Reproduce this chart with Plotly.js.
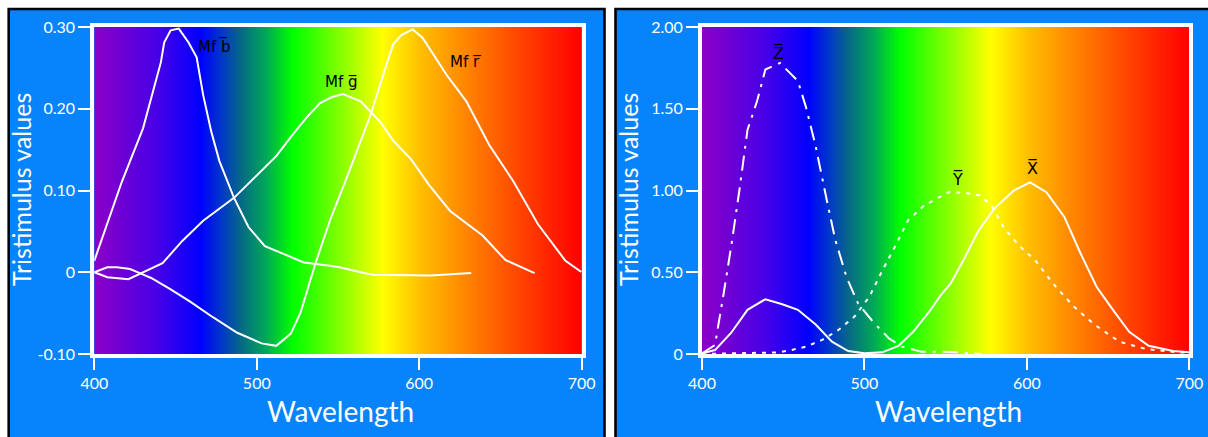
<!DOCTYPE html>
<html>
<head>
<meta charset="utf-8">
<script src="https://cdn.plot.ly/plotly-3.0.1.min.js"></script>
<style>html,body{margin:0;padding:0;background:#fff;}#chart{width:1208px;height:437px;}</style>
</head>
<body>
<div id="chart"></div>
<script>
// ---------- data ----------
// Left panel: CIE RGB colour matching functions (Mf r, g, b)
const bNm  = [400, 407, 417, 430, 435, 441, 443, 447, 452, 458, 463, 467, 472, 477, 486, 495, 505, 529, 545, 551, 566, 572, 607, 632];
const bVal = [0.014, 0.055, 0.111, 0.176, 0.213, 0.257, 0.281, 0.296, 0.298, 0.281, 0.263, 0.217, 0.172, 0.136, 0.091, 0.055, 0.032, 0.012, 0.008, 0.006, -0.001, -0.003, -0.004, -0.001];
const gNm  = [400, 408, 421, 426, 435, 442, 454, 467, 486, 500, 512, 522, 531, 539, 546, 553, 564, 576, 584, 595, 606, 619, 628, 639, 653, 671];
const gVal = [0, -0.006, -0.0085, -0.004, 0.004, 0.011, 0.038, 0.063, 0.091, 0.119, 0.142, 0.168, 0.190, 0.207, 0.214, 0.218, 0.209, 0.184, 0.161, 0.138, 0.107, 0.075, 0.061, 0.045, 0.015, -0.001];
const rNm  = [400, 408, 414, 422, 428, 435, 447, 459, 473, 488, 503, 512, 521, 527, 536, 545, 557, 570, 579, 584, 589, 596, 602, 617, 629, 643, 658, 673, 690, 700];
const rVal = [0, 0.006, 0.006, 0.004, -0.001, -0.007, -0.021, -0.036, -0.055, -0.074, -0.087, -0.090, -0.075, -0.049, 0.010, 0.063, 0.124, 0.192, 0.249, 0.279, 0.290, 0.297, 0.287, 0.241, 0.209, 0.156, 0.111, 0.059, 0.014, 0];

// Right panel: CIE XYZ colour matching functions
const zNm  = [400, 408, 413, 418, 423, 428, 434, 439, 448, 459, 464, 470, 476, 482, 489, 496, 505, 515, 523, 535, 547, 559, 572];
const zVal = [0.004, 0.055, 0.35, 0.66, 1.00, 1.37, 1.55, 1.74, 1.78, 1.67, 1.51, 1.27, 0.98, 0.70, 0.47, 0.31, 0.20, 0.096, 0.045, 0.014, 0.014, 0.01, 0];
const xNm  = [400, 408, 418, 428, 439, 449, 459, 470, 480, 490, 500, 511, 521, 530, 540, 547, 553, 561, 570, 580, 592, 602, 612, 623, 633, 643, 653, 663, 675, 690, 700];
const xVal = [0.004, 0.024, 0.13, 0.27, 0.335, 0.306, 0.27, 0.18, 0.075, 0.018, 0.004, 0.01, 0.05, 0.136, 0.26, 0.36, 0.43, 0.575, 0.75, 0.89, 1.00, 1.05, 0.99, 0.84, 0.616, 0.41, 0.27, 0.136, 0.05, 0.018, 0.01];
const yNm  = [400, 447, 455, 464, 474, 484, 494, 503, 511, 519, 527, 537, 548, 552, 561, 571, 578, 586, 592, 598, 605, 616, 629, 642, 657, 674, 693, 700];
const yVal = [0.0, 0.01, 0.024, 0.045, 0.086, 0.147, 0.23, 0.35, 0.51, 0.66, 0.82, 0.91, 0.97, 0.99, 0.987, 0.97, 0.91, 0.77, 0.70, 0.636, 0.575, 0.432, 0.289, 0.177, 0.075, 0.029, 0.01, 0.008];

// Spectrum background stops
const specNm    = [400, 440, 465, 478, 490, 505, 522, 550, 577, 600, 625, 660, 700];
const specColor = ['#8c00c8', '#4400e8', '#0000ff', '#0038c8', '#066888', '#00a858', '#00ff00', '#80ff00', '#ffff00', '#ffc000', '#ff8c00', '#ff4800', '#ff0000'];

// Tick labels
const xTicks = [400, 500, 600, 700];
const xTickText = ['400', '500', '600', '700'];
const yTicksL = [-0.1, 0, 0.1, 0.2, 0.3];
const yTickTextL = ['-0.10', '0', '0.10', '0.20', '0.30'];
const yTicksR = [0, 0.5, 1, 1.5, 2];
const yTickTextR = ['0', '0.50', '1.00', '1.50', '2.00'];

// ---------- layout helpers ----------
const W = 1208, H = 437;
const fx = p => p / W;
const fy = p => 1 - p / H;
const FONT = 'Lato, "Open Sans", sans-serif';
const LFONT = '"DejaVu Sans", sans-serif';
const BLUE = '#0784fb';

const colorscale = specNm.map((n, i) => [(n - 400) / 300, specColor[i]]);

function spectrum(xa, ya, y0, y1) {
  return {
    type: 'heatmap', xaxis: xa, yaxis: ya,
    x: specNm, y: [y0, y1], z: [specNm, specNm],
    zmin: 400, zmax: 700, colorscale: colorscale, zsmooth: 'best',
    showscale: false, hoverinfo: 'skip'
  };
}
function line(xa, ya, x, y, dash) {
  return {type: 'scatter', mode: 'lines', xaxis: xa, yaxis: ya, x: x, y: y,
    line: {color: '#ffffff', width: 2, dash: dash || 'solid'}, hoverinfo: 'skip', showlegend: false};
}

const data = [
  spectrum('x', 'y', -0.2, 0.4),
  line('x', 'y', bNm, bVal),
  line('x', 'y', gNm, gVal),
  line('x', 'y', rNm, rVal),
  spectrum('x2', 'y2', -0.5, 2.5),
  line('x2', 'y2', zNm, zVal, '15px,7px,3px,7px'),
  line('x2', 'y2', yNm, yVal, '4px,6px'),
  line('x2', 'y2', xNm, xVal)
];

function axisBase() {
  return {
    showline: true, linecolor: '#ffffff', linewidth: 4, mirror: true,
    ticks: 'outside', ticklen: 12, tickwidth: 2, tickcolor: '#ffffff',
    tickfont: {family: FONT, size: 16, color: '#ffffff'},
    showgrid: false, zeroline: false, fixedrange: true, automargin: false
  };
}
const yDomain = [fy(354), fy(27)];

function label(xa, ya, x, y, text, size) {
  return {xref: xa, yref: ya, x: x, y: y, text: text, showarrow: false,
    font: {family: LFONT, size: size, color: '#000000'}};
}

const layout = {
  width: W, height: H,
  margin: {l: 0, r: 0, t: 0, b: 0},
  paper_bgcolor: '#ffffff', plot_bgcolor: 'rgba(0,0,0,0)',
  showlegend: false,
  xaxis: Object.assign(axisBase(), {domain: [fx(94.3), fx(581.7)], range: [400, 700], tickvals: xTicks, ticktext: xTickText, anchor: 'y'}),
  yaxis: Object.assign(axisBase(), {domain: yDomain, range: [-0.1, 0.3], tickvals: yTicksL, ticktext: yTickTextL, anchor: 'x',
    zeroline: true, zerolinecolor: '#000000', zerolinewidth: 1}),
  xaxis2: Object.assign(axisBase(), {domain: [fx(702), fx(1189.3)], range: [400, 700], tickvals: xTicks, ticktext: xTickText, anchor: 'y2'}),
  yaxis2: Object.assign(axisBase(), {domain: yDomain, range: [0, 2], tickvals: yTicksR, ticktext: yTickTextR, anchor: 'x2'}),
  shapes: [
    {type: 'rect', xref: 'paper', yref: 'paper', layer: 'below', x0: fx(8.7), x1: fx(604.5), y0: fy(9), y1: fy(460),
      fillcolor: BLUE, line: {color: '#000000', width: 2.6}},
    {type: 'rect', xref: 'paper', yref: 'paper', layer: 'below', x0: fx(615.5), x1: fx(1230), y0: fy(9), y1: fy(460),
      fillcolor: BLUE, line: {color: '#000000', width: 2.6}}
  ],
  annotations: [
    {xref: 'paper', yref: 'paper', x: fx(21), y: fy(190), text: 'Tristimulus values', textangle: -90, showarrow: false,
      xanchor: 'center', yanchor: 'middle', font: {family: FONT, size: 25, color: '#ffffff'}},
    {xref: 'paper', yref: 'paper', x: fx(340), y: fy(411), text: 'Wavelength', showarrow: false,
      xanchor: 'center', yanchor: 'middle', font: {family: FONT, size: 28, color: '#ffffff'}},
    {xref: 'paper', yref: 'paper', x: fx(628), y: fy(190), text: 'Tristimulus values', textangle: -90, showarrow: false,
      xanchor: 'center', yanchor: 'middle', font: {family: FONT, size: 25, color: '#ffffff'}},
    {xref: 'paper', yref: 'paper', x: fx(948), y: fy(411), text: 'Wavelength', showarrow: false,
      xanchor: 'center', yanchor: 'middle', font: {family: FONT, size: 28, color: '#ffffff'}},
    label('x', 'y', 473.7, 0.276, 'Mf b\u0305', 15),
    label('x', 'y', 552.4, 0.2325, 'Mf g\u0305', 15),
    label('x', 'y', 628.7, 0.257, 'Mf r\u0305', 15),
    label('x2', 'y2', 447.4, 1.835, 'Z\u0305', 16),
    label('x2', 'y2', 557.6, 1.07, 'Y\u0305', 16),
    label('x2', 'y2', 603.2, 1.132, 'X\u0305', 16)
  ]
};

Plotly.newPlot('chart', data, layout, {staticPlot: true, displayModeBar: false});
</script>
</body>
</html>
